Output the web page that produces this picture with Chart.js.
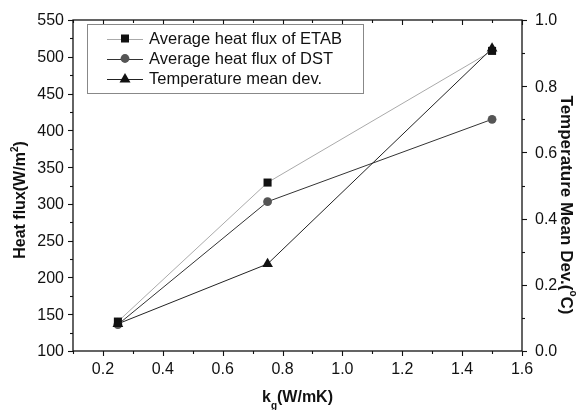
<!DOCTYPE html>
<html>
<head>
<meta charset="utf-8">
<script src="https://cdn.jsdelivr.net/npm/chart.js@4.4.1/dist/chart.umd.min.js"></script>
<style>
  html, body { margin: 0; padding: 0; background: #fff; }
  #wrap { width: 582px; height: 410px; }
</style>
</head>
<body>
<div id="wrap"><canvas id="chart" width="582" height="410"></canvas></div>
<script>
// conductivity values (x)
const kgValues = [0.25, 0.75, 1.5];
// series values
const etabFlux = [140, 329, 508];
const dstFlux = [136, 303, 415];
const tempDev = [0.082, 0.263, 0.914];

const seriesNames = ['Average heat flux of ETAB', 'Average heat flux of DST', 'Temperature mean dev.'];
const xTicks = [0.2, 0.4, 0.6, 0.8, 1.0, 1.2, 1.4, 1.6];
const leftTicks = [100, 150, 200, 250, 300, 350, 400, 450, 500, 550];
const rightTicks = [0.0, 0.2, 0.4, 0.6, 0.8, 1.0];

const FONT = "'Liberation Sans', Arial, sans-serif";

function toPoints(xs, ys) {
    return xs.map((x, i) => ({ x: x, y: ys[i] }));
}

function drawMarker(ctx, style, cx, cy) {
    if (style === 'rect') {
        ctx.fillRect(cx - 4, cy - 4, 8, 8);
    } else if (style === 'circle') {
        ctx.beginPath();
        ctx.arc(cx, cy, 4.4, 0, Math.PI * 2);
        ctx.fill();
    } else {
        ctx.beginPath();
        ctx.moveTo(cx, cy - 5.5);
        ctx.lineTo(cx + 5.5, cy + 4);
        ctx.lineTo(cx - 5.5, cy + 4);
        ctx.closePath();
        ctx.fill();
    }
}

// Axis frame, ticks, labels, legend and titles
const decorPlugin = {
    id: 'decor',
    afterDraw(chart) {
        const ctx = chart.ctx;
        const a = chart.chartArea;
        const sx = chart.scales.x;
        const sy = chart.scales.y;
        const sy2 = chart.scales.y2;
        ctx.save();
        ctx.strokeStyle = '#111';
        ctx.lineWidth = 1.3;
        ctx.strokeRect(a.left, a.top, a.right - a.left, a.bottom - a.top);

        ctx.lineWidth = 1.1;
        // x ticks: bottom outward, top inward
        for (let i = 1; i <= 16; i++) {
            const px = Math.round(sx.getPixelForValue(i / 10)) + 0.5;
            const len = i % 2 === 0 ? 5 : 3;
            ctx.beginPath();
            ctx.moveTo(px, a.bottom);
            ctx.lineTo(px, a.bottom + len);
            ctx.moveTo(px, a.top);
            ctx.lineTo(px, a.top + len);
            ctx.stroke();
        }
        // left ticks
        for (let v = 100; v <= 550; v += 25) {
            const py = Math.round(sy.getPixelForValue(v)) + 0.5;
            const len = v % 50 === 0 ? 5 : 3;
            ctx.beginPath();
            ctx.moveTo(a.left, py);
            ctx.lineTo(a.left - len, py);
            ctx.stroke();
        }
        // right ticks
        for (let i = 0; i <= 10; i++) {
            const py = Math.round(sy2.getPixelForValue(i / 10)) + 0.5;
            const len = i % 2 === 0 ? 5 : 3;
            ctx.beginPath();
            ctx.moveTo(a.right, py);
            ctx.lineTo(a.right + len, py);
            ctx.stroke();
        }

        // tick labels
        ctx.fillStyle = '#111';
        ctx.font = '16px ' + FONT;
        ctx.textBaseline = 'middle';
        ctx.textAlign = 'center';
        xTicks.forEach(v => ctx.fillText(v.toFixed(1), sx.getPixelForValue(v), a.bottom + 19));
        ctx.textAlign = 'right';
        leftTicks.forEach(v => ctx.fillText(String(v), a.left - 9, sy.getPixelForValue(v) + 1));
        ctx.textAlign = 'left';
        rightTicks.forEach(v => ctx.fillText(v.toFixed(1), a.right + 13, sy2.getPixelForValue(v) + 1));

        // legend box
        const bx = 87, by = 24, bw = 276, bh = 69;
        ctx.fillStyle = '#fff';
        ctx.fillRect(bx, by, bw, bh);
        ctx.strokeStyle = '#888';
        ctx.lineWidth = 1;
        ctx.strokeRect(bx + 0.5, by + 0.5, bw, bh);
        const ds = chart.data.datasets;
        ctx.font = '16.5px ' + FONT;
        ctx.textAlign = 'left';
        ds.forEach((d, i) => {
            const yy = 38.5 + i * 20;
            ctx.strokeStyle = d.borderColor;
            ctx.lineWidth = 1;
            ctx.beginPath();
            ctx.moveTo(107, Math.round(yy) + 0.5);
            ctx.lineTo(143, Math.round(yy) + 0.5);
            ctx.stroke();
            ctx.fillStyle = d.pointBackgroundColor;
            drawMarker(ctx, d.pointStyle, 125, yy);
            ctx.fillStyle = '#111';
            ctx.fillText(d.label, 149, yy + 1);
        });

        // axis titles
        ctx.fillStyle = '#111';
        ctx.textAlign = 'left';
        // left
        ctx.save();
        ctx.translate(21, 200);
        ctx.rotate(-Math.PI / 2);
        ctx.font = 'bold 16px ' + FONT;
        const lt = 'Heat flux(W/m';
        const lw = ctx.measureText(lt).width;
        const pw = ctx.measureText(')').width;
        ctx.font = 'bold 10px ' + FONT;
        const sw = ctx.measureText('2').width;
        const tot = lw + sw + pw;
        ctx.font = 'bold 16px ' + FONT;
        ctx.fillText(lt, -tot / 2, 0);
        ctx.fillText(')', -tot / 2 + lw + sw, 0);
        ctx.font = 'bold 10px ' + FONT;
        ctx.fillText('2', -tot / 2 + lw, -6);
        ctx.restore();

        // right
        ctx.save();
        ctx.translate(566, 205);
        ctx.rotate(Math.PI / 2);
        ctx.font = 'bold 17px ' + FONT;
        const r1 = 'Temperature Mean Dev.(';
        const r2 = 'C)';
        const w1 = ctx.measureText(r1).width;
        const w2 = ctx.measureText(r2).width;
        ctx.font = 'bold 10px ' + FONT;
        const wo = ctx.measureText('o').width;
        const rt = w1 + wo + w2;
        ctx.font = 'bold 17px ' + FONT;
        ctx.fillText(r1, -rt / 2, 0);
        ctx.fillText(r2, -rt / 2 + w1 + wo, 0);
        ctx.font = 'bold 10px ' + FONT;
        ctx.fillText('o', -rt / 2 + w1, -7);
        ctx.restore();

        // bottom
        ctx.font = 'bold 16px ' + FONT;
        const kw = ctx.measureText('k').width;
        const restw = ctx.measureText('(W/mK)').width;
        ctx.font = 'bold 10px ' + FONT;
        const gw = ctx.measureText('g').width;
        const bt = kw + gw + restw;
        const x0 = (a.left + a.right) / 2 - bt / 2;
        const yb = 398;
        ctx.font = 'bold 16px ' + FONT;
        ctx.fillText('k', x0, yb);
        ctx.fillText('(W/mK)', x0 + kw + gw, yb);
        ctx.font = 'bold 10px ' + FONT;
        ctx.fillText('g', x0 + kw, yb + 8);
        ctx.restore();
    }
};

new Chart(document.getElementById('chart'), {
    type: 'scatter',
    data: {
        datasets: [
            {
                label: seriesNames[0],
                data: toPoints(kgValues, etabFlux),
                yAxisID: 'y',
                showLine: true,
                borderColor: '#aaaaaa',
                borderWidth: 1,
                pointStyle: 'rect',
                pointRadius: 5.7,
                pointBackgroundColor: '#111',
                pointBorderColor: '#111',
                pointBorderWidth: 0,
                order: 2
            },
            {
                label: seriesNames[1],
                data: toPoints(kgValues, dstFlux),
                yAxisID: 'y',
                showLine: true,
                borderColor: '#333',
                borderWidth: 1,
                pointStyle: 'circle',
                pointRadius: 4.4,
                pointBackgroundColor: '#555',
                pointBorderColor: '#555',
                pointBorderWidth: 0,
                order: 3
            },
            {
                label: seriesNames[2],
                data: toPoints(kgValues, tempDev),
                yAxisID: 'y2',
                showLine: true,
                borderColor: '#222',
                borderWidth: 1,
                pointStyle: 'triangle',
                pointRadius: 6.2,
                pointBackgroundColor: '#111',
                pointBorderColor: '#111',
                pointBorderWidth: 0,
                order: 1
            }
        ]
    },
    options: {
        responsive: false,
        animation: false,
        layout: { padding: { top: 20, right: 0, left: 0, bottom: 0 } },
        plugins: {
            legend: { display: false },
            tooltip: { enabled: false }
        },
        scales: {
            x: {
                type: 'linear',
                min: 0.1,
                max: 1.6,
                afterFit: function(scale) { scale.height = 59; },
                grid: { display: false },
                border: { display: false },
                ticks: { display: false }
            },
            y: {
                position: 'left',
                min: 100,
                max: 550,
                afterFit: function(scale) { scale.width = 73; },
                grid: { display: false },
                border: { display: false },
                ticks: { display: false }
            },
            y2: {
                position: 'right',
                min: 0,
                max: 1.0,
                afterFit: function(scale) { scale.width = 60; },
                grid: { display: false },
                border: { display: false },
                ticks: { display: false }
            }
        }
    },
    plugins: [decorPlugin]
});
</script>
</body>
</html>
